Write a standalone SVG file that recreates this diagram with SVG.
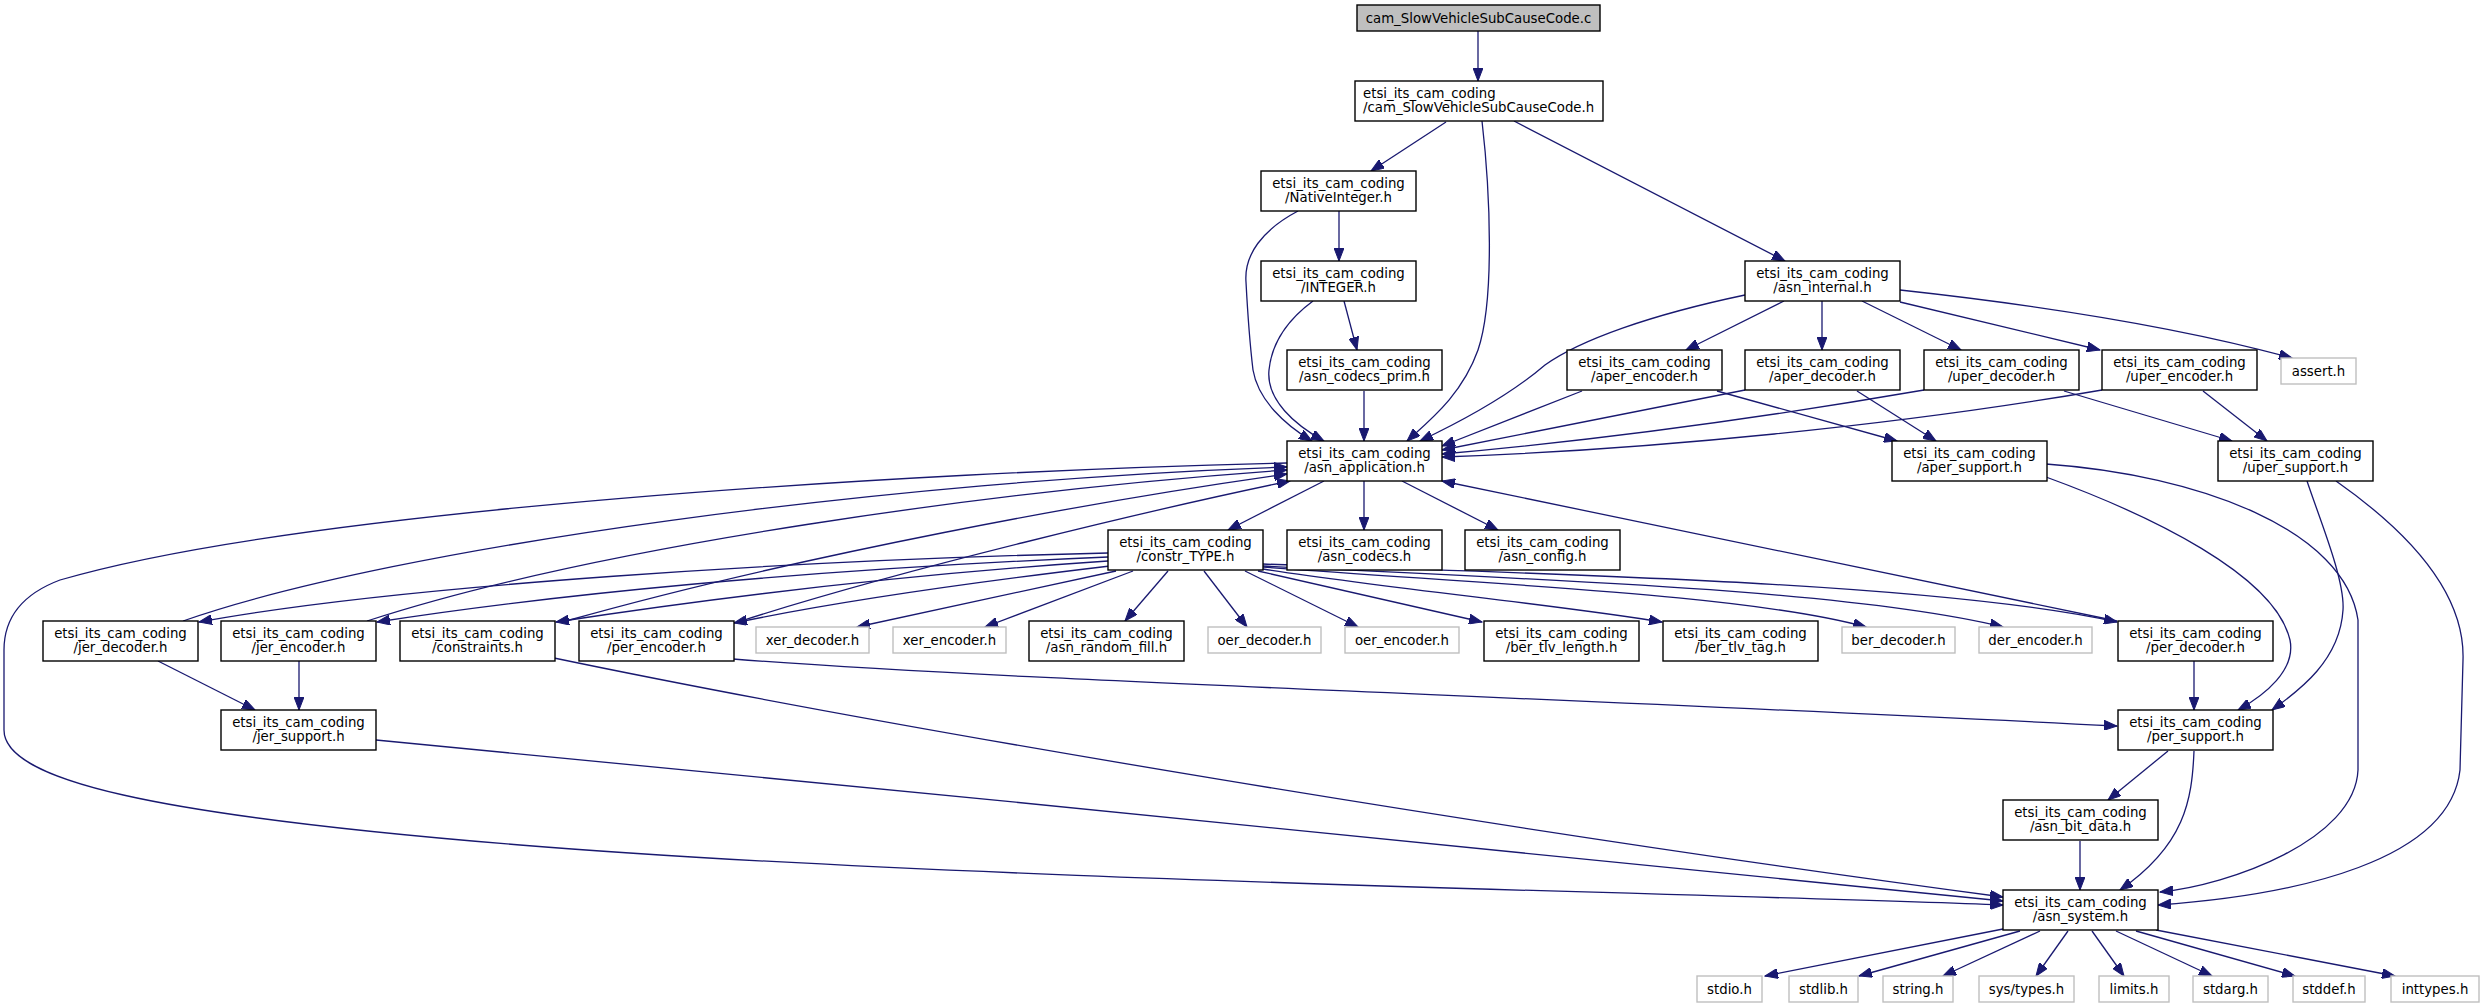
<svg xmlns="http://www.w3.org/2000/svg" width="2485" height="1005" viewBox="0 0 2485 1005">
<style>
rect{fill:#fff;stroke:#000;stroke-width:1.4}
.root rect{fill:#bfbfbf;stroke:#000}
.ext rect{stroke:#bfbfbf}
text{font-family:"DejaVu Sans",sans-serif;font-size:13.3px;fill:#000;text-anchor:middle}
text.l{text-anchor:start}
#edges path{fill:none;stroke:#191970;stroke-width:1.3}
</style>
<defs>
<marker id="a" markerUnits="userSpaceOnUse" markerWidth="14" markerHeight="10" refX="13" refY="5" orient="auto"><path d="M0,0 L13,5 L0,10 z" fill="#191970" stroke="#191970"/></marker>
</defs>
<rect width="2485" height="1005" style="fill:#fff;stroke:none"/>
<g id="edges" marker-end="url(#a)">
<path d="M1478,31 L1478,81"/>
<path d="M1446,122 L1371,171"/>
<path d="M1482,121 C1490,190 1495,300 1478,350 C1462,395 1430,420 1407,441"/>
<path d="M1514,121 L1785,261"/>
<path d="M1339,211 L1339,261"/>
<path d="M1298,211 C1262,230 1244,255 1246,282 C1248,320 1250,345 1253,370 C1258,400 1285,425 1312,441"/>
<path d="M1344,301 L1357,350"/>
<path d="M1313,301 C1290,318 1272,340 1269,370 C1266,400 1295,425 1324,441"/>
<path d="M1364,391 L1364,441"/>
<path d="M1745,295 C1650,315 1580,340 1545,365 C1510,395 1460,422 1420,441"/>
<path d="M1784,301 L1686,350"/>
<path d="M1822,301 L1822,350"/>
<path d="M1862,301 L1961,350"/>
<path d="M1900,302 L2100,350"/>
<path d="M1900,290 C2010,302 2160,322 2292,358"/>
<path d="M1582,391 L1442,446"/>
<path d="M1717,391 L1897,441"/>
<path d="M1745,390 L1442,450"/>
<path d="M1857,391 L1936,441"/>
<path d="M1924,390 C1750,420 1600,440 1442,454"/>
<path d="M2064,391 L2232,441"/>
<path d="M2102,390 C1900,425 1650,450 1442,457"/>
<path d="M2203,391 L2267,441"/>
<path d="M1324,481 L1228,530"/>
<path d="M1364,481 L1364,530"/>
<path d="M1402,481 L1498,530"/>
<path d="M1287,463 C900,472 300,510 60,580 C20,595 4,620 4,650 L4,730 C4,780 150,815 520,845 C950,880 1700,893 2003,905"/>
<path d="M183,621 C400,545 900,480 1287,467"/>
<path d="M367,621 C600,545 1000,490 1287,470"/>
<path d="M566,621 C800,555 1100,500 1287,474"/>
<path d="M741,621 C900,570 1150,510 1290,481"/>
<path d="M1108,553 C800,560 400,585 199,622"/>
<path d="M1108,557 C800,570 550,595 377,622"/>
<path d="M1108,561 C900,575 700,600 556,622"/>
<path d="M1110,566 C950,585 820,605 734,623"/>
<path d="M1116,571 L857,627"/>
<path d="M1133,571 L985,627"/>
<path d="M1168,571 L1125,621"/>
<path d="M1204,571 L1247,627"/>
<path d="M1245,571 L1358,627"/>
<path d="M1258,571 L1482,622"/>
<path d="M1263,569 C1400,590 1560,605 1662,622"/>
<path d="M1263,567 C1500,585 1750,595 1866,627"/>
<path d="M1263,566 C1550,580 1850,590 2003,627"/>
<path d="M1263,564 C1600,575 1950,585 2117,622"/>
<path d="M2117,621 L1442,481"/>
<path d="M2194,661 L2194,710"/>
<path d="M2046,477 C2150,515 2275,575 2290,640 C2296,670 2265,695 2238,710"/>
<path d="M2046,464 C2200,475 2345,530 2358,620 L2358,770 C2355,840 2230,885 2160,892"/>
<path d="M2307,481 C2320,520 2345,580 2343,610 C2340,660 2300,690 2272,710"/>
<path d="M2336,481 C2420,540 2465,600 2463,660 L2460,770 C2450,860 2300,895 2158,905"/>
<path d="M2168,751 L2108,800"/>
<path d="M2194,751 C2192,800 2185,845 2120,890"/>
<path d="M2080,841 L2080,890"/>
<path d="M733,659 C1000,680 1500,695 2117,726"/>
<path d="M554,658 C900,730 1500,830 2003,897"/>
<path d="M376,740 C900,790 1600,860 2003,901"/>
<path d="M158,661 L255,710"/>
<path d="M299,661 L299,710"/>
<path d="M2003,929 L1765,976"/>
<path d="M2020,931 L1859,976"/>
<path d="M2040,931 L1943,976"/>
<path d="M2068,931 L2036,976"/>
<path d="M2092,931 L2124,976"/>
<path d="M2116,931 L2212,976"/>
<path d="M2136,931 L2295,976"/>
<path d="M2156,930 L2395,976"/>
</g>
<g id="n0" class="root"><rect x="1357" y="5" width="243" height="26"/><text x="1478.5" y="22.5">cam_SlowVehicleSubCauseCode.c</text></g>
<g id="n1"><rect x="1355" y="81" width="248" height="40"/><text class="l" x="1363" y="97.5">etsi_its_cam_coding</text><text class="l" x="1363" y="112">/cam_SlowVehicleSubCauseCode.h</text></g>
<g id="n2"><rect x="1261" y="171" width="155" height="40"/><text x="1338.5" y="187.5">etsi_its_cam_coding</text><text x="1338.5" y="202">/NativeInteger.h</text></g>
<g id="n3"><rect x="1261" y="261" width="155" height="40"/><text x="1338.5" y="277.5">etsi_its_cam_coding</text><text x="1338.5" y="292">/INTEGER.h</text></g>
<g id="n4"><rect x="1287" y="350" width="155" height="40"/><text x="1364.5" y="366.5">etsi_its_cam_coding</text><text x="1364.5" y="381">/asn_codecs_prim.h</text></g>
<g id="n5"><rect x="1287" y="441" width="155" height="40"/><text x="1364.5" y="457.5">etsi_its_cam_coding</text><text x="1364.5" y="472">/asn_application.h</text></g>
<g id="n6"><rect x="1745" y="261" width="155" height="40"/><text x="1822.5" y="277.5">etsi_its_cam_coding</text><text x="1822.5" y="292">/asn_internal.h</text></g>
<g id="n7"><rect x="1567" y="350" width="155" height="40"/><text x="1644.5" y="366.5">etsi_its_cam_coding</text><text x="1644.5" y="381">/aper_encoder.h</text></g>
<g id="n8"><rect x="1745" y="350" width="155" height="40"/><text x="1822.5" y="366.5">etsi_its_cam_coding</text><text x="1822.5" y="381">/aper_decoder.h</text></g>
<g id="n9"><rect x="1924" y="350" width="155" height="40"/><text x="2001.5" y="366.5">etsi_its_cam_coding</text><text x="2001.5" y="381">/uper_decoder.h</text></g>
<g id="n10"><rect x="2102" y="350" width="155" height="40"/><text x="2179.5" y="366.5">etsi_its_cam_coding</text><text x="2179.5" y="381">/uper_encoder.h</text></g>
<g id="n11" class="ext"><rect x="2281" y="358" width="75" height="26"/><text x="2318.5" y="375.5">assert.h</text></g>
<g id="n12"><rect x="1892" y="441" width="155" height="40"/><text x="1969.5" y="457.5">etsi_its_cam_coding</text><text x="1969.5" y="472">/aper_support.h</text></g>
<g id="n13"><rect x="2218" y="441" width="155" height="40"/><text x="2295.5" y="457.5">etsi_its_cam_coding</text><text x="2295.5" y="472">/uper_support.h</text></g>
<g id="n14"><rect x="1108" y="530" width="155" height="40"/><text x="1185.5" y="546.5">etsi_its_cam_coding</text><text x="1185.5" y="561">/constr_TYPE.h</text></g>
<g id="n15"><rect x="1287" y="530" width="155" height="40"/><text x="1364.5" y="546.5">etsi_its_cam_coding</text><text x="1364.5" y="561">/asn_codecs.h</text></g>
<g id="n16"><rect x="1465" y="530" width="155" height="40"/><text x="1542.5" y="546.5">etsi_its_cam_coding</text><text x="1542.5" y="561">/asn_config.h</text></g>
<g id="n17"><rect x="43" y="621" width="155" height="40"/><text x="120.5" y="637.5">etsi_its_cam_coding</text><text x="120.5" y="652">/jer_decoder.h</text></g>
<g id="n18"><rect x="221" y="621" width="155" height="40"/><text x="298.5" y="637.5">etsi_its_cam_coding</text><text x="298.5" y="652">/jer_encoder.h</text></g>
<g id="n19"><rect x="400" y="621" width="155" height="40"/><text x="477.5" y="637.5">etsi_its_cam_coding</text><text x="477.5" y="652">/constraints.h</text></g>
<g id="n20"><rect x="579" y="621" width="155" height="40"/><text x="656.5" y="637.5">etsi_its_cam_coding</text><text x="656.5" y="652">/per_encoder.h</text></g>
<g id="n21" class="ext"><rect x="756" y="627" width="113" height="26"/><text x="812.5" y="644.5">xer_decoder.h</text></g>
<g id="n22" class="ext"><rect x="893" y="627" width="113" height="26"/><text x="949.5" y="644.5">xer_encoder.h</text></g>
<g id="n23"><rect x="1029" y="621" width="155" height="40"/><text x="1106.5" y="637.5">etsi_its_cam_coding</text><text x="1106.5" y="652">/asn_random_fill.h</text></g>
<g id="n24" class="ext"><rect x="1208" y="627" width="113" height="26"/><text x="1264.5" y="644.5">oer_decoder.h</text></g>
<g id="n25" class="ext"><rect x="1345" y="627" width="114" height="26"/><text x="1402" y="644.5">oer_encoder.h</text></g>
<g id="n26"><rect x="1484" y="621" width="155" height="40"/><text x="1561.5" y="637.5">etsi_its_cam_coding</text><text x="1561.5" y="652">/ber_tlv_length.h</text></g>
<g id="n27"><rect x="1663" y="621" width="155" height="40"/><text x="1740.5" y="637.5">etsi_its_cam_coding</text><text x="1740.5" y="652">/ber_tlv_tag.h</text></g>
<g id="n28" class="ext"><rect x="1842" y="627" width="113" height="26"/><text x="1898.5" y="644.5">ber_decoder.h</text></g>
<g id="n29" class="ext"><rect x="1979" y="627" width="113" height="26"/><text x="2035.5" y="644.5">der_encoder.h</text></g>
<g id="n30"><rect x="2118" y="621" width="155" height="40"/><text x="2195.5" y="637.5">etsi_its_cam_coding</text><text x="2195.5" y="652">/per_decoder.h</text></g>
<g id="n31"><rect x="221" y="710" width="155" height="40"/><text x="298.5" y="726.5">etsi_its_cam_coding</text><text x="298.5" y="741">/jer_support.h</text></g>
<g id="n32"><rect x="2118" y="710" width="155" height="40"/><text x="2195.5" y="726.5">etsi_its_cam_coding</text><text x="2195.5" y="741">/per_support.h</text></g>
<g id="n33"><rect x="2003" y="800" width="155" height="40"/><text x="2080.5" y="816.5">etsi_its_cam_coding</text><text x="2080.5" y="831">/asn_bit_data.h</text></g>
<g id="n34"><rect x="2003" y="890" width="155" height="40"/><text x="2080.5" y="906.5">etsi_its_cam_coding</text><text x="2080.5" y="921">/asn_system.h</text></g>
<g id="n35" class="ext"><rect x="1697" y="976" width="65" height="26"/><text x="1729.5" y="993.5">stdio.h</text></g>
<g id="n36" class="ext"><rect x="1789" y="976" width="69" height="26"/><text x="1823.5" y="993.5">stdlib.h</text></g>
<g id="n37" class="ext"><rect x="1883" y="976" width="70" height="26"/><text x="1918" y="993.5">string.h</text></g>
<g id="n38" class="ext"><rect x="1979" y="976" width="95" height="26"/><text x="2026.5" y="993.5">sys/types.h</text></g>
<g id="n39" class="ext"><rect x="2099" y="976" width="70" height="26"/><text x="2134" y="993.5">limits.h</text></g>
<g id="n40" class="ext"><rect x="2193" y="976" width="75" height="26"/><text x="2230.5" y="993.5">stdarg.h</text></g>
<g id="n41" class="ext"><rect x="2293" y="976" width="72" height="26"/><text x="2329" y="993.5">stddef.h</text></g>
<g id="n42" class="ext"><rect x="2391" y="976" width="88" height="26"/><text x="2435" y="993.5">inttypes.h</text></g>
</svg>
